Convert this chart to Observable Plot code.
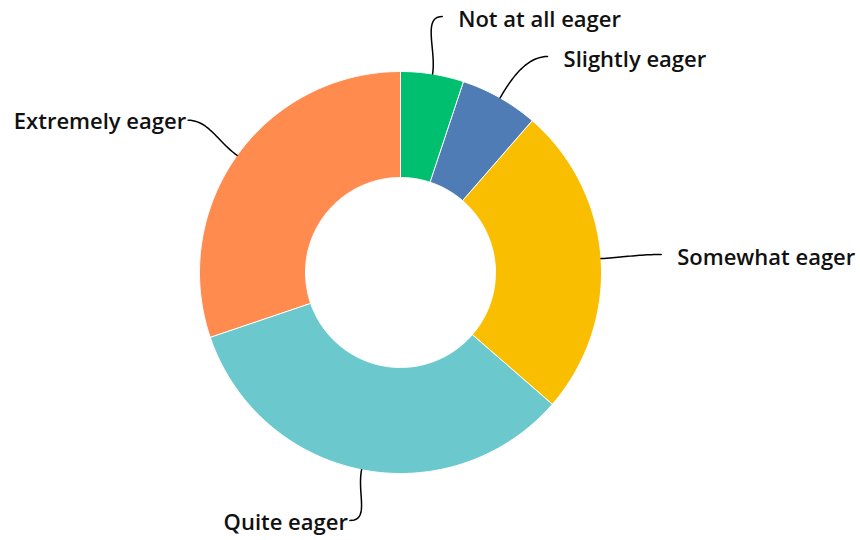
<!DOCTYPE html>
<html><head><meta charset="utf-8">
<script src="https://cdn.jsdelivr.net/npm/d3@7"></script>
<script src="https://cdn.jsdelivr.net/npm/@observablehq/plot@0.6"></script>
<style>body{margin:0;background:#fff}</style>
</head><body><div id="chart"></div>
<script>
const categories = ["Not at all eager", "Slightly eager", "Somewhat eager", "Quite eager", "Extremely eager"];
const values = [5.1, 6.3, 25.0, 33.4, 30.2];
const colors = ["#00BF6F", "#507CB6", "#F9BE00", "#6BC8CD", "#FF8B4F"];

// layout
const W = 860, H = 540, CX = 400, CY = 272, RPX = 201;
const INNER = 95 / 201, LABEL_R = 1.3, GAP = 40 / 201;
const YMIN = -(H - CY - 20) / RPX, YMAX = (CY - 16) / RPX;

const total = d3.sum(values);
let acc = 0;
const slices = categories.map((c, i) => {
  const a0 = acc / total * 2 * Math.PI; acc += values[i];
  const a1 = acc / total * 2 * Math.PI;
  return {c, a0, a1, mid: (a0 + a1) / 2};
});
const pt = (r, a) => [r * Math.sin(a), r * Math.cos(a)];

// donut polygons
const poly = [];
for (const s of slices) {
  const n = Math.max(10, Math.ceil((s.a1 - s.a0) * 90));
  for (let k = 0; k <= n; k++) { const [x, y] = pt(1, s.a0 + (s.a1 - s.a0) * k / n); poly.push({x, y, c: s.c}); }
  for (let k = n; k >= 0; k--) { const [x, y] = pt(INNER, s.a0 + (s.a1 - s.a0) * k / n); poly.push({x, y, c: s.c}); }
}

// label positions with simple collision avoidance per side, kept inside the frame
const labels = slices.map(s => {
  let [x, y] = pt(LABEL_R, s.mid);
  y = Math.max(YMIN, Math.min(YMAX, y));
  return {...s, x, y, side: s.mid < Math.PI ? 1 : -1};
});
for (const side of [1, -1]) {
  const grp = labels.filter(l => l.side === side).sort((a, b) => b.y - a.y);
  for (let i = 1; i < grp.length; i++) {
    if (grp[i - 1].y - grp[i].y < GAP) {
      grp[i].y = grp[i - 1].y - GAP;
      grp[i].x = side * Math.sqrt(Math.max(0, LABEL_R * LABEL_R - grp[i].y * grp[i].y));
    }
  }
}

// leader curves (cubic bezier: radial start, horizontal end)
const leaders = [];
for (const l of labels) {
  const p0 = pt(1, l.mid), p1 = pt(1.12, l.mid);
  const p3 = [l.x, l.y], p2 = [l.x - l.side * 0.1, l.y];
  for (let k = 0; k <= 24; k++) {
    const t = k / 24, u = 1 - t;
    const x = u*u*u*p0[0] + 3*u*u*t*p1[0] + 3*u*t*t*p2[0] + t*t*t*p3[0];
    const y = u*u*u*p0[1] + 3*u*u*t*p1[1] + 3*u*t*t*p2[1] + t*t*t*p3[1];
    leaders.push({x, y, c: l.c});
  }
}

const chart = Plot.plot({
  width: W, height: H,
  margin: 0,
  x: {domain: [-CX / RPX, (W - CX) / RPX], range: [0, W], axis: null},
  y: {domain: [-(H - CY) / RPX, CY / RPX], range: [H, 0], axis: null},
  color: {domain: categories, range: colors},
  style: {fontFamily: "'Open Sans'", background: "#fff"},
  marks: [
    Plot.line(poly, {x: "x", y: "y", z: "c", fill: "c", stroke: "white", strokeWidth: 1, curve: "linear-closed"}),
    Plot.line(leaders, {x: "x", y: "y", z: "c", stroke: "#000", strokeWidth: 1.5}),
    Plot.text(labels.filter(l => l.side === 1), {x: "x", y: "y", text: "c", textAnchor: "start", dx: 16, dy: 3, fontSize: 22, fontWeight: 600, fill: "#111"}),
    Plot.text(labels.filter(l => l.side === -1), {x: "x", y: "y", text: "c", textAnchor: "end", dx: -2, dy: 2, fontSize: 22, fontWeight: 600, fill: "#111"})
  ]
});
document.getElementById("chart").appendChild(chart);
</script>
</body></html>
